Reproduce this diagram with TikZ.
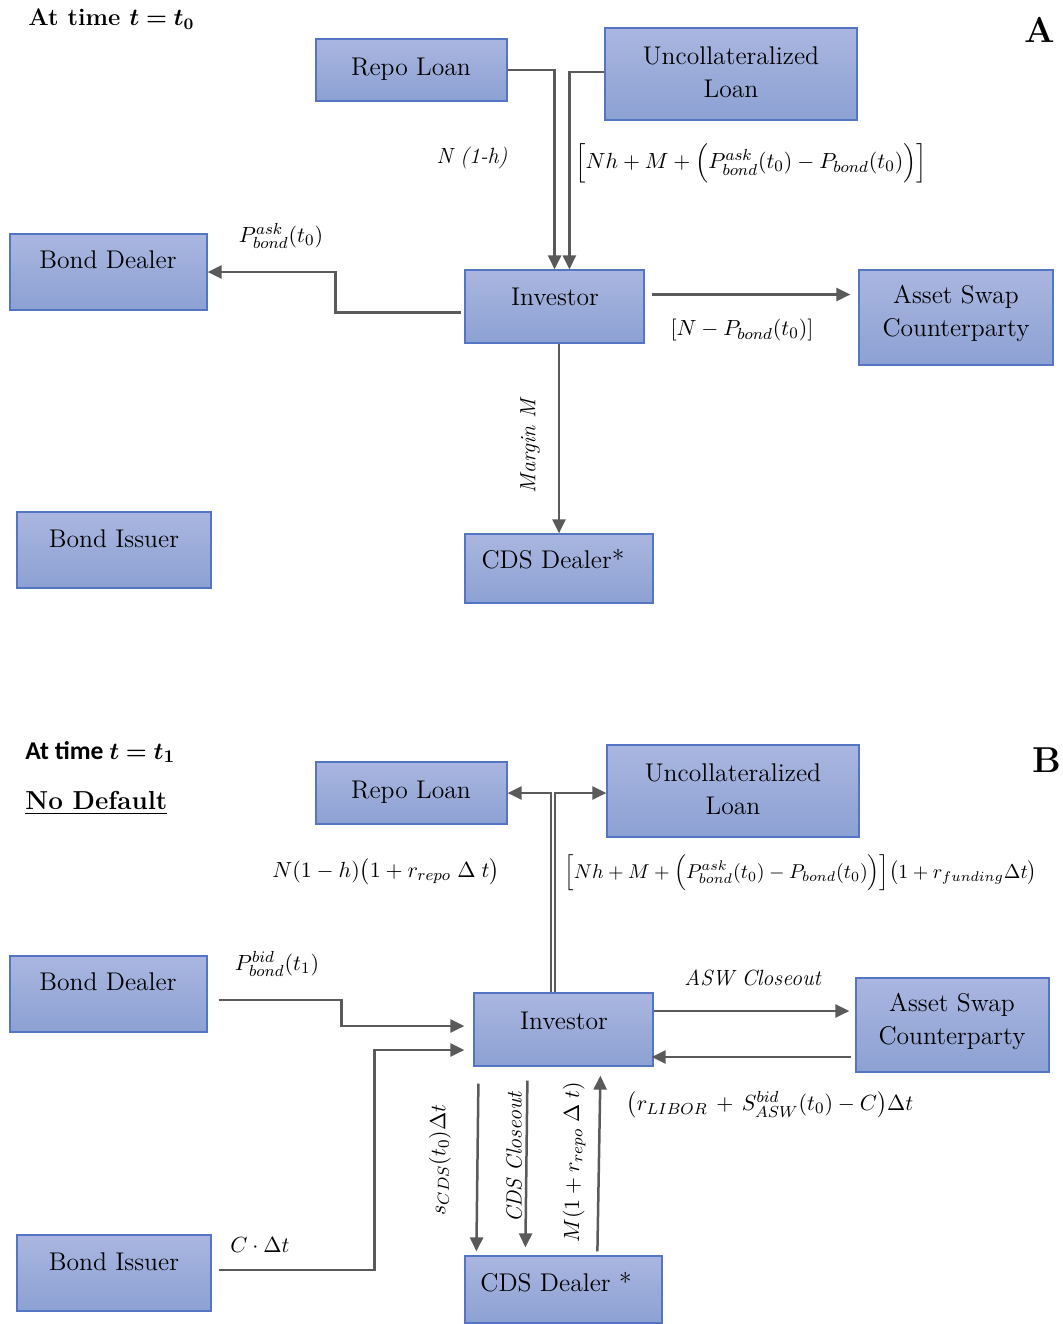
\documentclass[tikz,border=0pt]{standalone}
\usepackage{amsmath}
\usepackage{bm}
\usepackage{fontspec}
\newfontfamily\carlito{Carlito}
\usetikzlibrary{arrows.meta,fit,calc}

\definecolor{boxtop}{RGB}{170,182,224}
\definecolor{boxbot}{RGB}{140,161,211}
\definecolor{boxline}{RGB}{84,116,196}
\definecolor{flowgray}{RGB}{90,90,90}

\tikzset{
  box/.style={draw=boxline, line width=0.6pt, top color=boxtop, bottom color=boxbot, inner sep=0pt},
  boxtext/.style={font=\fontsize{12.8}{16.5}\selectfont, align=center, inner sep=0pt},
  flow/.style={draw=flowgray, line width=1.25pt, -{Triangle[length=7pt,width=6.5pt]}},
  lab/.style={font=\fontsize{11}{13}\selectfont, inner sep=0pt},
}

\begin{document}
\begin{tikzpicture}[x=0.5pt,y=-0.5pt]
\useasboundingbox (0,0) rectangle (1062,1324);

% ---------- Panel A: at time t0 ----------
\node[anchor=west, font=\bfseries\fontsize{12}{14}\selectfont, inner sep=0pt] (titleA) at (28,19) {At time $\bm{t=t_0}$};
\node[font=\bfseries\fontsize{18}{20}\selectfont, inner sep=0pt] (tagA) at (1040,30) {A};

\node[box, fit={(316,39)(507,101)}] (repoA) {};
\node[boxtext, anchor=base] (repoAt) at (411,75) {Repo Loan};
\node[box, fit={(605,28)(857,120)}] (unA) {};
\node[boxtext] (unAt) at (731,72) {Uncollateralized\\Loan};
\node[box, fit={(10,234)(207,310)}] (bdA) {};
\node[boxtext, anchor=base] (bdAt) at (108,268) {Bond Dealer};
\node[box, fit={(465,270)(644,343)}] (invA) {};
\node[boxtext, anchor=base] (invAt) at (555,305) {Investor};
\node[box, fit={(859,270)(1053,365)}] (ascA) {};
\node[boxtext] (ascAt) at (956,313) {Asset Swap\\Counterparty};
\node[box, fit={(17,512)(211,588)}] (biA) {};
\node[boxtext, anchor=base] (biAt) at (114,547) {Bond Issuer};
\node[box, fit={(465,534)(653,603)}] (cdsA) {};
\node[boxtext, anchor=base] (cdsAt) at (553,568) {CDS Dealer*};

% connectors A
\coordinate (a1) at ($(repoA.east)+(47,0)$);
\draw[flow] (repoA.east) -- (a1) -- (a1 |- invA.north);
\coordinate (a2) at ($(unA.west)+(-35,-2)$);
\draw[flow] (unA.west |- a2) -- (a2) -- (a2 |- invA.north);
\coordinate (a3) at ($(invA.west)+(-3,6)$);
\coordinate (a4) at ($(bdA.east)+(128,0)$);
\draw[flow] (a3) -| (a4) -- (bdA.east);
\coordinate (a5) at ($(invA.east)+(7,-12)$);
\draw[flow] (a5) -- ($(ascA.west |- a5)+(-8,0)$);
\draw[flow] (invA.south -| cdsA.north) -- (cdsA.north);

% labels A
\node[lab] (lA1) at (472,158) {\textit{N (1-h)}};
\node[lab] (lA2) at (751,163) {$\Big[Nh+M+\Big(P^{ask}_{bond}(t_0)-P_{bond}(t_0)\Big)\Big]$};
\node[lab] (lA3) at (281,236) {$P^{ask}_{bond}(t_0)$};
\node[lab] (lA4) at (742,330) {$[N-P_{bond}(t_0)]$};
\node[lab, rotate=90] (lA5) at (530,445) {\textit{Margin M}};

% ---------- Panel B: at time t1, no default ----------
\node[anchor=west, font=\carlito\bfseries\fontsize{12.8}{15}\selectfont, inner sep=0pt] (titleB) at (25,752) {At time $\bm{t=t_1}$};
\node[anchor=west, font=\bfseries\fontsize{13}{15}\selectfont, inner sep=0pt] (noDef) at (25,803) {\underline{No Default}};
\node[font=\bfseries\fontsize{18}{20}\selectfont, inner sep=0pt] (tagB) at (1047,760) {B};

\node[box, fit={(316,762)(507,824)}] (repoB) {};
\node[boxtext, anchor=base] (repoBt) at (411,798) {Repo Loan};
\node[box, fit={(607,745)(859,837)}] (unB) {};
\node[boxtext] (unBt) at (733,789) {Uncollateralized\\Loan};
\node[box, fit={(10,956)(207,1032)}] (bdB) {};
\node[boxtext, anchor=base] (bdBt) at (108,990) {Bond Dealer};
\node[box, fit={(474,993)(653,1066)}] (invB) {};
\node[boxtext, anchor=base] (invBt) at (564,1029) {Investor};
\node[box, fit={(856,978)(1049,1072)}] (ascB) {};
\node[boxtext] (ascBt) at (952,1021) {Asset Swap\\Counterparty};
\node[box, fit={(17,1235)(211,1311)}] (biB) {};
\node[boxtext, anchor=base] (biBt) at (114,1270) {Bond Issuer};
\node[box, fit={(465,1256)(662,1323)}] (cdsB) {};
\node[boxtext, anchor=base] (cdsBt) at (556,1291) {CDS Dealer *};

% connectors B
\coordinate (b1) at ($(invB.north)+(-12.5,0)$);
\coordinate (b2) at ($(invB.north)+(-8.5,0)$);
\draw[flow] (b1) |- (repoB.east);
\draw[flow] (b2) |- (unB.west |- repoB.east);
\coordinate (b3) at ($(bdB.east)+(11,6)$);
\coordinate (b4) at ($(invB.west)+(-9,-3.5)$);
\draw[flow] (b3) -| ($(b3)!0.5!(b4)$) |- (b4);
\coordinate (b5) at ($(biB.east)+(7,-3)$);
\coordinate (b6) at ($(invB.west)+(-9,20.5)$);
\draw[flow] (b5) -| ($(b5)!0.635!(b6)$) |- (b6);
\coordinate (b7) at ($(invB.east)+(0,-18.5)$);
\draw[flow] (b7) -- ($(ascB.west |- b7)+(-6,0)$);
\coordinate (b8) at ($(ascB.west)+(-4,32)$);
\draw[flow] (b8) -- ($(invB.east |- b8)+(-2,0)$);
\coordinate (c1s) at ($(invB.south west)+(5,17)$);
\coordinate (c1e) at ($(cdsB.north west)+(12,-4)$);
\draw[flow] (c1s) -- (c1e);
\coordinate (c2s) at ($(invB.south west)+(54,14)$);
\coordinate (c2e) at ($(cdsB.north west)+(61,-8)$);
\draw[flow] (c2s) -- (c2e);
\coordinate (c3s) at ($(cdsB.north west)+(133,-4)$);
\coordinate (c3e) at ($(invB.south west)+(127,9)$);
\draw[flow] (c3s) -- (c3e);

% labels B
\node[lab] (lB1) at (386,872) {$N(1-h)\big(1+r_{repo}\;\Delta\;t\big)$};
\node[lab, anchor=west, font=\fontsize{10.1}{13}\selectfont] (lB2) at (564,873) {$\Big[Nh+M+\Big(P^{ask}_{bond}(t_0)-P_{bond}(t_0)\Big)\Big]\big(1+r_{funding}\Delta t\big)$};
\node[lab] (lB3) at (277,964) {$P^{bid}_{bond}(t_1)$};
\node[lab] (lB4) at (753,978) {\textit{ASW Closeout}};
\node[lab] (lB5) at (770,1105) {$\big(r_{LIBOR}\,+\,S^{bid}_{ASW}(t_0)-C\big)\Delta t$};
\node[lab] (lB6) at (260,1245) {$C\cdot\Delta t$};
\node[lab, rotate=90] (lB7) at (440,1160) {$s_{CDS}(t_0)\Delta t$};
\node[lab, rotate=90] (lB8) at (514,1157) {\textit{CDS Closeout}};
\node[lab, rotate=90] (lB9) at (574,1162) {$M(1+r_{repo}\;\Delta\;t)$};
\end{tikzpicture}
\end{document}
